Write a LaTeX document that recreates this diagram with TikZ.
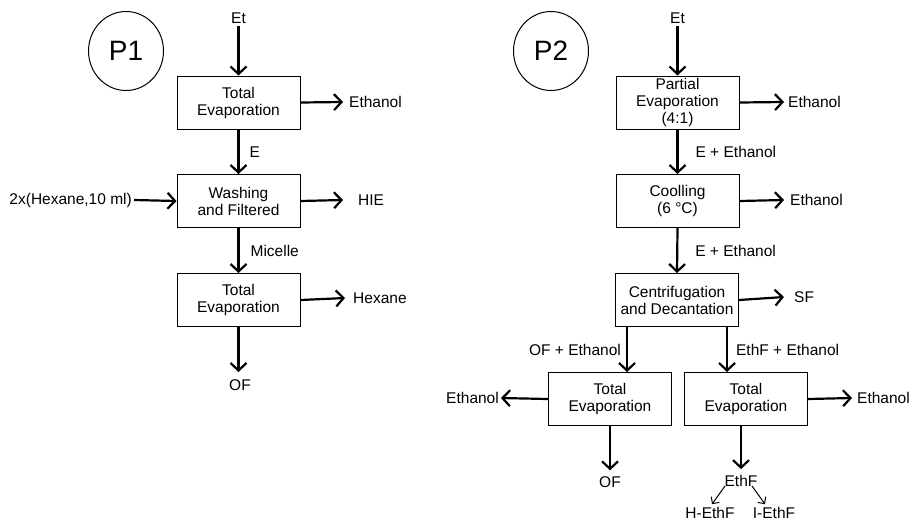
\documentclass[tikz,border=0pt]{standalone}
\usepackage{fontspec}
\setmainfont{Liberation Sans}
\usetikzlibrary{arrows.meta,shapes.geometric,calc}
\begin{document}
\begin{tikzpicture}[x=1pt,y=-1pt,
  every node/.style={font=\fontsize{15.5}{17}\selectfont, inner sep=2pt},
  procbox/.style={draw, line width=1pt, minimum width=123pt, minimum height=53pt, align=center, inner sep=0pt},
  flow/.style={line width=2.2pt, -{Straight Barb[length=7.5pt,width=16pt,line width=2.2pt]}},
  thinflow/.style={line width=1pt, -{Straight Barb[length=5pt,width=10pt,line width=1pt]}},
  pcirc/.style={draw, ellipse, line width=1pt, minimum width=75pt, minimum height=79pt, font=\fontsize{28}{30}\selectfont}]
\useasboundingbox (0,0) rectangle (909,523);

% ---------- P1 ----------
\node[pcirc] (p1) at (126,51) {P1};
\node (et1) at (238.5,18) {Et};
\node[procbox] (b1) at (238.5,102.5) {Total\\Evaporation};
\node[procbox] (b2) at (238.5,201) {Washing\\and Filtered};
\node[procbox] (b3) at (238.5,300) {Total\\Evaporation};
\node[anchor=west] (eth1) at (347,102) {Ethanol};
\node[anchor=west] (hie) at (356,200) {HIE};
\node[anchor=west] (hex) at (351,298) {Hexane};
\node[anchor=east] (hexin) at (134,200) {2x(Hexane,10 ml)};
\node (of1) at (240,385) {OF};

\draw[flow] (et1.south) -- (b1.north);
\draw[flow] (b1.east) -- ([xshift=-4pt]eth1.west);
\draw[flow] (b1.south) -- node[right, xshift=8pt] {E} (b2.north);
\draw[flow] (hexin.east) -- (b2.west);
\draw[flow] (b2.east) -- ([xshift=-13pt]hie.west);
\draw[flow] (b2.south) -- node[right, xshift=9pt] {Micelle} (b3.north);
\draw[flow] (b3.east) -- ([xshift=-6pt]hex.west);
\draw[flow] (b3.south) -- (b3.south |- 0,372);

% ---------- P2 ----------
\node[pcirc] (p2) at (551,51) {P2};
\node (et2) at (677.5,18) {Et};
\node[procbox] (a) at (677.5,102.5) {Partial\\Evaporation\\(4:1)};
\node[procbox] (b) at (677.5,201) {Coolling\\(6 °C)};
\node[procbox] (c) at (677,300) {Centrifugation\\and Decantation};
\node[procbox] (d) at (610,399) {Total\\Evaporation};
\node[procbox] (e) at (746,399) {Total\\Evaporation};
\node[anchor=west] (eth2) at (786,102) {Ethanol};
\node[anchor=west] (eth3) at (788,200) {Ethanol};
\node[anchor=west] (sf) at (792,297) {SF};
\node[anchor=east] (eth4) at (501,398) {Ethanol};
\node[anchor=west] (eth5) at (855,398) {Ethanol};
\node (of2) at (610,482) {OF};
\node (ef) at (741,481) {EthF};
\node (hef) at (710,513) {H-EthF};
\node (ief) at (774,513) {I-EthF};

\draw[flow] (et2.south) -- (a.north);
\draw[flow] (a.east) -- ([xshift=-2pt]eth2.west);
\draw[flow] (a.south) -- node[right, xshift=15pt] {E + Ethanol} (b.north);
\draw[flow] (b.east) -- ([xshift=-4pt]eth3.west);
\draw[flow] (b.south) -- node[right, xshift=15pt] {E + Ethanol} (c.north);
\draw[flow] (c.east) -- ([xshift=-8pt]sf.west);
\draw[flow] ([xshift=-50pt]c.south) -- node[left, xshift=-3pt] {OF + Ethanol} ([xshift=-50pt]c.south |- d.north);
\draw[flow] ([xshift=50pt]c.south) -- node[right, xshift=6pt] {EthF + Ethanol} ([xshift=50pt]c.south |- e.north);
\draw[flow] (d.west) -- (eth4.east);
\draw[flow] (e.east) -- ([xshift=-3pt]eth5.west);
\draw[flow] (d.south) -- ([yshift=4pt]of2.north);
\draw[flow] (e.south -| ef.north) -- ([yshift=4pt]ef.north);
\draw[thinflow] ($(ef.center)+(-16,5)$) -- ($(hef.north)+(2,-1)$);
\draw[thinflow] ($(ef.center)+(11,5)$) -- ($(ief.north)+(-9,-1)$);
\end{tikzpicture}
\end{document}
